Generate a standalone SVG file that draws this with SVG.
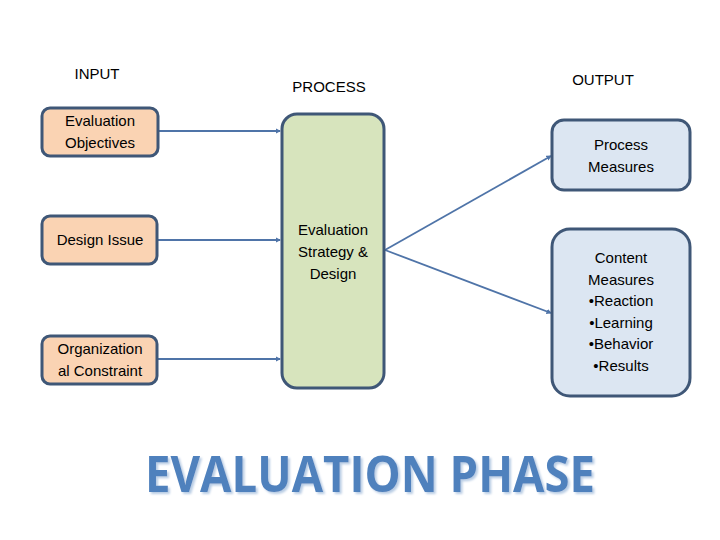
<svg xmlns="http://www.w3.org/2000/svg" width="720" height="540" viewBox="0 0 720 540">
<defs>
<marker id="ah" viewBox="0 0 6 6" refX="5" refY="3" markerWidth="3" markerHeight="3" orient="auto" markerUnits="strokeWidth">
<path d="M0,0 L6,3 L0,6 z" fill="#4f74a8"/>
</marker>
<filter id="sh" x="-5%" y="-20%" width="110%" height="140%">
<feDropShadow dx="2" dy="2" stdDeviation="0.8" flood-color="#b8cce4" flood-opacity="1"/>
</filter>
</defs>
<style>
.t{font-family:"Liberation Sans",Arial,sans-serif;font-size:15px;fill:#000;text-anchor:middle}
.in{fill:#fad3b3;stroke:#3f5777;stroke-width:3}
.pr{fill:#d7e4bd;stroke:#3f5777;stroke-width:3}
.out{fill:#dce6f2;stroke:#3f5777;stroke-width:3}
.c{stroke:#4f74a8;stroke-width:1.8;fill:none;marker-end:url(#ah)}
</style>
<rect width="720" height="540" fill="#fff"/>
<text class="t" x="97" y="79">INPUT</text>
<text class="t" x="329" y="92">PROCESS</text>
<text class="t" x="603" y="85">OUTPUT</text>
<g id="connectors">
<line class="c" x1="158" y1="131" x2="280" y2="131"/>
<line class="c" x1="157" y1="240" x2="280" y2="240"/>
<line class="c" x1="157" y1="359" x2="280" y2="359"/>
<line class="c" x1="385" y1="250" x2="551" y2="156"/>
<line class="c" x1="385" y1="250" x2="551" y2="313"/>
</g>
<g id="n-objectives">
<rect class="in" x="42" y="108" width="116" height="48" rx="8"/>
<text class="t" x="100" y="126">Evaluation</text>
<text class="t" x="100" y="148">Objectives</text>
</g>
<g id="n-design">
<rect class="in" x="42" y="216" width="115" height="48" rx="8"/>
<text class="t" x="100" y="245">Design Issue</text>
</g>
<g id="n-org">
<rect class="in" x="42" y="336" width="115" height="48" rx="8"/>
<text class="t" x="100" y="354">Organization</text>
<text class="t" x="100" y="376">al Constraint</text>
</g>
<g id="n-strategy">
<rect class="pr" x="282" y="114" width="102" height="274" rx="15"/>
<text class="t" x="333" y="235">Evaluation</text>
<text class="t" x="333" y="257">Strategy &amp;</text>
<text class="t" x="333" y="279">Design</text>
</g>
<g id="n-process">
<rect class="out" x="552" y="120" width="138" height="70" rx="12"/>
<text class="t" x="621" y="150">Process</text>
<text class="t" x="621" y="172">Measures</text>
</g>
<g id="n-content">
<rect class="out" x="552" y="229" width="138" height="167" rx="18"/>
<text class="t" x="621" y="263">Content</text>
<text class="t" x="621" y="285">Measures</text>
<text class="t" x="621" y="306">•Reaction</text>
<text class="t" x="621" y="328">•Learning</text>
<text class="t" x="621" y="349">•Behavior</text>
<text class="t" x="621" y="371">•Results</text>
</g>
<text x="145" y="492" textLength="450" lengthAdjust="spacingAndGlyphs" filter="url(#sh)" style="font-family:'Open Sans','Liberation Sans',sans-serif;font-weight:bold;font-size:50px;fill:#4f81bd">EVALUATION PHASE</text>
</svg>
